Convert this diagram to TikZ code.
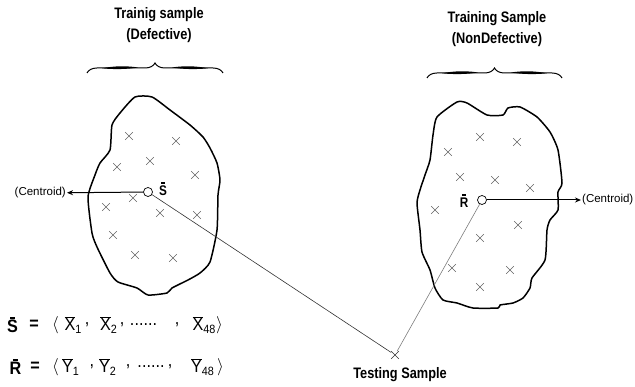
\documentclass[tikz,border=0pt]{standalone}
\usepackage{fontspec}
\setmainfont{Liberation Sans}
\newfontfamily\narrowsans{Liberation Sans}[FakeStretch=0.84]
\newfontfamily\termsans{Liberation Sans}[FakeStretch=0.9]
\usetikzlibrary{shapes.misc, arrows.meta, positioning, decorations.pathreplacing}
\definecolor{crossgray}{RGB}{100,100,100}
\definecolor{linegray}{RGB}{125,125,125}
\definecolor{linedark}{RGB}{50,50,50}
\newcommand{\barred}[1]{\ensuremath{\overline{\hbox{#1}}}}
\newcommand{\hatbar}[1]{\setbox0\hbox{#1}\rlap{\makebox[\wd0]{\raisebox{\dimexpr\ht0+1.8pt\relax}{\rule{0.45\wd0}{1.7pt}}}}\box0}
\newcommand{\lowsub}[1]{\raisebox{-3pt}{\fontsize{12}{13}\selectfont #1}}

\tikzset{
  sample/.style={cross out, draw=crossgray, line width=0.6pt, minimum size=7pt, inner sep=0pt},
  region/.style={line width=1.5pt, line join=round},
  centroid/.style={circle, draw, line width=0.7pt, minimum size=9pt, inner sep=0pt},
  heading/.style={font=\narrowsans\fontsize{15.2}{21}\selectfont\bfseries, align=center},
  note/.style={font=\fontsize{11.5}{13}\selectfont, inner sep=1pt},
  grouping/.style={decorate, decoration={brace, amplitude=10pt}, line width=1pt},
  term/.style={font=\termsans\fontsize{18}{20}\selectfont, inner sep=0pt},
  tag/.style={font=\narrowsans\fontsize{14}{16}\selectfont\bfseries, inner sep=0pt}
}

\begin{document}
\begin{tikzpicture}[x=1pt, y=-1pt]
  \useasboundingbox (0,0) rectangle (635,387);

  % Headings and braces
  \node[heading] (deftitle) at (159,25.5) {Trainig sample\\(Defective)};
  \node[heading] (nontitle) at (497,29.5) {Training Sample\\(NonDefective)};
  \draw[grouping] (87,73) -- (223,73);
  \fill (102,68.3) .. controls (114,65.8) and (128,65.8) .. (138,67.5)
    .. controls (128,69.2) and (114,69.6) .. cycle;
  \fill (172,67.5) .. controls (182,65.8) and (196,65.8) .. (208,68.3)
    .. controls (196,69.6) and (182,69.2) .. cycle;
  \draw[grouping] (427,78) -- (562,78);
  \fill (442,73.3) .. controls (454,70.8) and (468,70.8) .. (478,72.5)
    .. controls (468,74.2) and (454,74.6) .. cycle;
  \fill (511,72.5) .. controls (521,70.8) and (535,70.8) .. (547,73.3)
    .. controls (535,74.6) and (521,74.2) .. cycle;

  % Defective region
  \draw[region] plot[smooth cycle, tension=0.35] coordinates {
    (135,97) (152,97) (170,110) (190,125) (203,137) (210,148) (217,163)
    (220,180) (218,195) (217,230) (210,262) (200,273) (188,280) (172,288)
    (167,293) (148,295) (137,288) (118,282) (110,273) (97,247) (92,233)
    (88,197) (95,175) (100,163) (110,150) (112,125) (120,113)};
  \foreach \x/\y [count=\i] in {129/136, 176/141, 150/161, 117/167, 195/175,
      133/198, 106/207, 160/213, 197/215, 113/235, 135/255, 173/258}
    \node[sample] (d\i) at (\x,\y) {};

  % NonDefective region
  \draw[region] plot[smooth cycle, tension=0.35] coordinates {
    (437,117) (457,102) (467,103) (487,115) (503,115) (508,108) (520,107)
    (537,117) (550,132) (558,150) (562,183) (558,192) (558,210) (550,220)
    (547,230) (545,260) (532,278) (530,288) (523,298) (513,303) (500,305)
    (498,308) (473,308) (457,303) (443,300) (435,288) (430,270) (422,252)
    (420,230) (417,203) (420,190) (425,175) (430,160) (433,135)};
  \foreach \x/\y [count=\i] in {480/137, 517/142, 448/152, 460/177, 495/180,
      530/188, 435/210, 518/225, 480/238, 452/268, 510/270, 480/287}
    \node[sample] (n\i) at (\x,\y) {};

  % Centroids
  \node[centroid] (cs) at (148,192) {};
  \node[tag] (slbl) at (163,189) {\hatbar{S}};
  \node[note, anchor=east] (cl) at (67,193) {(Centroid)};
  \draw[-{Stealth[length=6pt,width=5pt]}, line width=1pt] (cs) -- (cl);

  \node[centroid] (cr) at (482,200) {};
  \node[tag] (rlbl) at (464,201) {\hatbar{R}};
  \node[note, anchor=west] (crl) at (581,200) {(Centroid)};
  \draw[-{Stealth[length=6pt,width=5pt]}, line width=1pt] (cr) -- (crl);

  % Testing sample
  \node[sample, draw=linedark] (test) at (395,355) {};
  \node[heading] (testlbl) at (400,375) {Testing Sample};
  \draw[linedark, line width=0.6pt] (cs) -- (test);
  \draw[linegray, line width=0.6pt] (cr) -- (test);

  % Centroid vectors
  \foreach \x/\t [count=\i] in {12.5/{\textbf{\hatbar{S}}}, 34/{\textbf{=}}, 55.5/{$\Bigl\langle$},
      73/{\barred{X}\lowsub{1}}, 87/{,}, 108.5/{\barred{X}\lowsub{2}}, 122/{,},
      143.5/{......}, 177/{,}, 204/{\barred{X}\lowsub{48}}, 219.5/{$\Bigr\rangle$}}
    \node[term] (s\i) at (\x,325) {\t};
  \foreach \x/\t [count=\i] in {15.5/{\textbf{\hatbar{R}}}, 35/{\textbf{=}}, 55.5/{$\Bigl\langle$},
      70.5/{\barred{Y}\lowsub{1}}, 92/{,}, 107.5/{\barred{Y}\lowsub{2}}, 128/{,},
      151/{......}, 170/{,}, 202.5/{\barred{Y}\lowsub{48}}, 220.5/{$\Bigr\rangle$}}
    \node[term] (r\i) at (\x,367) {\t};
\end{tikzpicture}
\end{document}
